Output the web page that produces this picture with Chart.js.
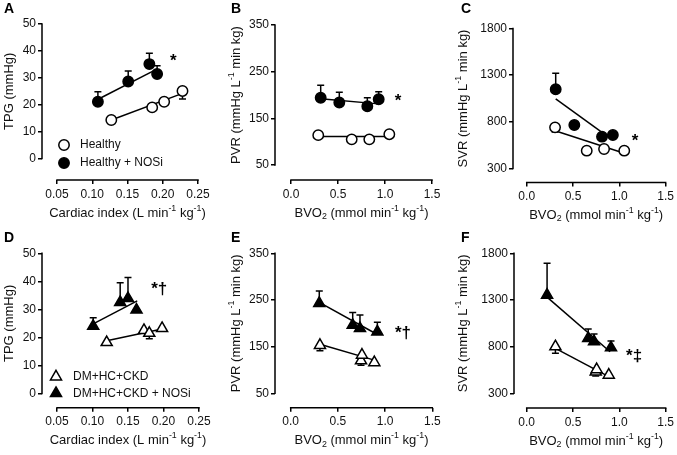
<!DOCTYPE html>
<html>
<head>
<meta charset="utf-8">
<script src="https://cdn.jsdelivr.net/npm/chart.js@4.4.1/dist/chart.umd.min.js"></script>
<style>
  body { margin: 0; background: #fff; }
  #wrap { position: relative; width: 677px; height: 455px; overflow: hidden; }
  canvas { position: absolute; }
</style>
</head>
<body>
<div id="wrap">
  <canvas id="pA" width="225" height="225" style="left:0;top:0"></canvas>
  <canvas id="pB" width="225" height="225" style="left:225px;top:0"></canvas>
  <canvas id="pC" width="227" height="225" style="left:450px;top:0"></canvas>
  <canvas id="pD" width="225" height="230" style="left:0;top:225px"></canvas>
  <canvas id="pE" width="225" height="230" style="left:225px;top:225px"></canvas>
  <canvas id="pF" width="227" height="230" style="left:450px;top:225px"></canvas>
</div>
<script>
// ---- tick labels ----
const ciTicks = [0.05, 0.10, 0.15, 0.20, 0.25];
const bvoTicks = [0.0, 0.5, 1.0, 1.5];
const tpgTicks = [0, 10, 20, 30, 40, 50];
const pvrTicks = [50, 150, 250, 350];
const svrTicks = [300, 800, 1300, 1800];

// ---- A: TPG vs cardiac index, healthy ----
const aHealthyX = [0.127, 0.185, 0.202, 0.228];
const aHealthyY = [14.3, 19.0, 21.1, 25.1];
const aHealthyErr = [0, 0, 0, -3];
const aNosiX = [0.108, 0.151, 0.181, 0.192];
const aNosiY = [21.1, 28.6, 35.1, 31.4];
const aNosiErr = [3.7, 3.9, 4.0, 3.1];
const aHealthyFitX = [0.127, 0.228], aHealthyFitY = [14.3, 24.2];
const aNosiFitX = [0.109, 0.191], aNosiFitY = [22.1, 33.1];

// ---- B: PVR vs BVO2, healthy ----
const bHealthyX = [0.29, 0.646, 0.833, 1.046];
const bHealthyY = [114, 105, 105, 116];
const bHealthyErr = [0, 0, 0, -8];
const bNosiX = [0.316, 0.514, 0.812, 0.933];
const bNosiY = [194, 184, 176, 191];
const bNosiErr = [27, 22, 18, 16];
const bHealthyFitX = [0.29, 1.05], bHealthyFitY = [111, 111];
const bNosiFitX = [0.316, 0.933], bNosiFitY = [192, 181];

// ---- C: SVR vs BVO2, healthy ----
const cHealthyX = [0.306, 0.648, 0.835, 1.053];
const cHealthyY = [741, 491, 509, 491];
const cHealthyErr = [-50, 0, 0, 0];
const cNosiX = [0.313, 0.514, 0.813, 0.93];
const cNosiY = [1149, 766, 641, 659];
const cNosiErr = [171, 0, 0, 0];
const cHealthyFitX = [0.306, 1.053], cHealthyFitY = [705, 463];
const cNosiFitX = [0.313, 0.88], cNosiFitY = [1045, 640];

// ---- D: TPG vs cardiac index, DM+HC+CKD ----
const dSickX = [0.12, 0.1725, 0.18, 0.198];
const dSickY = [18.2, 22.5, 21.5, 23.2];
const dSickErr = [0, 0, -2, 0];
const dNosiX = [0.101, 0.139, 0.15, 0.162];
const dNosiY = [24, 32.5, 33.9, 29.8];
const dNosiErr = [3, 7, 7.5, 0];
const dSickFitX = [0.12, 0.198], dSickFitY = [18.8, 23];
const dNosiFitX = [0.101, 0.163], dNosiFitY = [24.8, 33];

// ---- E: PVR vs BVO2, DM+HC+CKD ----
const eSickX = [0.31, 0.745, 0.755, 0.886];
const eSickY = [153, 120, 132, 116];
const eSickErr = [-12, -10, 0, 0];
const eNosiX = [0.303, 0.657, 0.734, 0.918];
const eNosiY = [243, 196, 189, 182];
const eNosiErr = [26, 27, 29, 20];
const eSickFitX = [0.31, 0.886], eSickFitY = [155, 121];
const eNosiFitX = [0.303, 0.918], eNosiFitY = [245, 176];

// ---- F: SVR vs BVO2, DM+HC+CKD ----
const fSickX = [0.31, 0.745, 0.755, 0.886];
const fSickY = [800, 530, 555, 496];
const fSickErr = [-70, -45, 0, 0];
const fNosiX = [0.22, 0.664, 0.727, 0.91];
const fNosiY = [1354, 889, 854, 789];
const fNosiErr = [340, 100, 82, 72];
const fSickFitX = [0.31, 0.886], fSickFitY = [782, 479];
const fNosiFitX = [0.22, 0.9], fNosiFitY = [1330, 745];

const FONT = '"Liberation Sans", Arial, Helvetica, sans-serif';
Chart.defaults.font.family = FONT;
Chart.defaults.color = '#111';

const ciTitle = [['Cardiac index (L min', ''], ['-1', 'sup'], [' kg', ''], ['-1', 'sup'], [')', '']];
const bvoTitle = [['BVO', ''], ['2', 'sub'], [' (mmol min', ''], ['-1', 'sup'], [' kg', ''], ['-1', 'sup'], [')', '']];
const tpgTitle = [['TPG (mmHg)', '']];
const pvrTitle = [['PVR (mmHg L', ''], ['-1', 'sup'], [' min kg)', '']];
const svrTitle = [['SVR (mmHg L', ''], ['-1', 'sup'], [' min kg)', '']];

const CIRCLE_R = 5.2, TRI_R = 6.4, LW = 1.5;

function markers(xs, ys, errs, style, filled) {
  return {
    data: xs.map((x, i) => ({ x: x, y: ys[i] })),
    errs: errs,
    pointStyle: style,
    pointRadius: style === 'triangle' ? TRI_R : CIRCLE_R,
    pointBackgroundColor: filled ? '#000' : '#fff',
    pointBorderColor: '#000',
    pointBorderWidth: LW,
    order: 0
  };
}

function fitLine(xs, ys) {
  return {
    data: xs.map((x, i) => ({ x: x, y: ys[i] })),
    showLine: true,
    pointRadius: 0,
    borderColor: '#000',
    borderWidth: LW,
    order: 2
  };
}

function drawRich(ctx, parts, cx, cy, size, rotate) {
  ctx.save();
  ctx.translate(cx, cy);
  if (rotate) ctx.rotate(-Math.PI / 2);
  ctx.textBaseline = 'middle';
  ctx.textAlign = 'left';
  ctx.fillStyle = '#111';
  const small = size * 0.68;
  const widths = parts.map(p => {
    ctx.font = (p[1] ? small : size) + 'px ' + FONT;
    return ctx.measureText(p[0]).width;
  });
  let x = -widths.reduce((a, b) => a + b, 0) / 2;
  parts.forEach((p, i) => {
    ctx.font = (p[1] ? small : size) + 'px ' + FONT;
    const dy = p[1] === 'sup' ? -size * 0.36 : p[1] === 'sub' ? size * 0.26 : 0;
    ctx.fillText(p[0], x, dy);
    x += widths[i];
  });
  ctx.restore();
}

const panelCfg = {};

const prism = {
  id: 'prism',
  beforeDatasetsDraw(chart) {
    const ctx = chart.ctx, ys = chart.scales.y;
    ctx.save();
    ctx.strokeStyle = '#000';
    ctx.lineWidth = LW;
    chart.data.datasets.forEach((ds, di) => {
      if (!ds.errs) return;
      const meta = chart.getDatasetMeta(di);
      ds.errs.forEach((e, i) => {
        if (!e) return;
        const pt = meta.data[i];
        const yEnd = ys.getPixelForValue(ds.data[i].y + e);
        ctx.beginPath();
        ctx.moveTo(pt.x, pt.y);
        ctx.lineTo(pt.x, yEnd);
        ctx.moveTo(pt.x - 3.5, yEnd);
        ctx.lineTo(pt.x + 3.5, yEnd);
        ctx.stroke();
      });
    });
    ctx.restore();
  },
  afterDraw(chart) {
    const cfg = panelCfg[chart.canvas.id];
    const ctx = chart.ctx, xs = chart.scales.x, ys = chart.scales.y, area = chart.chartArea;
    ctx.save();
    // offset axis lines
    ctx.strokeStyle = '#000';
    ctx.lineWidth = LW;
    ctx.beginPath();
    ctx.moveTo(area.left, ys.getPixelForValue(cfg.yTicks[0]) + 0.75);
    ctx.lineTo(area.left, ys.getPixelForValue(cfg.yTicks[cfg.yTicks.length - 1]) - 0.75);
    ctx.moveTo(xs.getPixelForValue(cfg.xTicks[0]) - 0.75, area.bottom);
    ctx.lineTo(xs.getPixelForValue(cfg.xTicks[cfg.xTicks.length - 1]) + 0.75, area.bottom);
    ctx.stroke();

    // axis titles
    const midX = (xs.getPixelForValue(cfg.xTicks[0]) + xs.getPixelForValue(cfg.xTicks[cfg.xTicks.length - 1])) / 2;
    drawRich(ctx, cfg.xTitle, midX, area.bottom + 33, 13, false);
    const midY = (ys.getPixelForValue(cfg.yTicks[0]) + ys.getPixelForValue(cfg.yTicks[cfg.yTicks.length - 1])) / 2;
    drawRich(ctx, cfg.yTitle, cfg.yTitleX, midY, 13, true);

    // panel letter
    ctx.fillStyle = '#000';
    ctx.font = 'bold 14px ' + FONT;
    ctx.textAlign = 'left';
    ctx.textBaseline = 'middle';
    ctx.fillText(cfg.letter[0], cfg.letter[1], cfg.letter[2]);

    // significance marks
    ctx.font = 'bold 17px ' + FONT;
    ctx.textAlign = 'center';
    ctx.fillText(cfg.mark[2], xs.getPixelForValue(cfg.mark[0]), ys.getPixelForValue(cfg.mark[1]));

    // legend
    if (cfg.legend) {
      cfg.legend.forEach(item => {
        ctx.fillStyle = item.filled ? '#000' : '#fff';
        ctx.strokeStyle = '#000';
        Chart.helpers.drawPoint(ctx, {
          pointStyle: item.style,
          radius: item.style === 'triangle' ? TRI_R : CIRCLE_R,
          borderWidth: LW,
          rotation: 0
        }, item.mx, item.my);
        ctx.fillStyle = '#111';
        ctx.font = '12px ' + FONT;
        ctx.textAlign = 'left';
        ctx.fillText(item.text, item.tx, item.my);
      });
    }
    ctx.restore();
  }
};
Chart.register(prism);

function makePanel(id, cfg, datasets) {
  panelCfg[id] = cfg;
  const dec = (ticks) => ticks[0] < 1 && ticks[1] - ticks[0] < 0.1 ? 2 : (ticks[1] - ticks[0] < 1 ? 1 : 0);
  const axis = (ticks, min, max, isX) => ({
    type: 'linear',
    min: min,
    max: max,
    afterBuildTicks: s => { s.ticks = ticks.map(v => ({ value: v })); },
    afterFit: s => { if (isX) s.height = cfg.xAxisH; else s.width = cfg.yAxisW; },
    grid: { display: true, drawOnChartArea: false, drawTicks: true, tickLength: 4, color: '#000', lineWidth: LW },
    border: { display: false },
    ticks: {
      color: '#111',
      font: { size: 12 },
      padding: isX ? 3 : 2,
      maxRotation: 0,
      autoSkip: false,
      callback: v => v.toFixed(dec(ticks))
    }
  });
  return new Chart(document.getElementById(id), {
    type: 'scatter',
    data: { datasets: datasets },
    options: {
      responsive: false,
      animation: false,
      events: [],
      layout: { padding: { left: 0, right: cfg.padR, top: cfg.padT, bottom: 0 } },
      plugins: { legend: { display: false }, tooltip: { enabled: false } },
      scales: {
        x: axis(cfg.xTicks, cfg.xMin, cfg.xTicks[cfg.xTicks.length - 1], true),
        y: axis(cfg.yTicks, cfg.yMin, cfg.yTicks[cfg.yTicks.length - 1], false)
      }
    }
  });
}

makePanel('pA', {
  xTicks: ciTicks, yTicks: tpgTicks, xMin: 0.0287, yMin: -8.0,
  yAxisW: 42, padR: 27, padT: 24, xAxisH: 45,
  xTitle: ciTitle, yTitle: tpgTitle, yTitleX: 9,
  letter: ['A', 4, 9], mark: [0.215, 36, '*'],
  legend: [
    { style: 'circle', filled: false, mx: 64, my: 145, tx: 80, text: 'Healthy' },
    { style: 'circle', filled: true, mx: 64, my: 163, tx: 80, text: 'Healthy + NOSi' }
  ]
}, [
  markers(aHealthyX, aHealthyY, aHealthyErr, 'circle', false),
  markers(aNosiX, aNosiY, aNosiErr, 'circle', true),
  fitLine(aHealthyFitX, aHealthyFitY),
  fitLine(aNosiFitX, aNosiFitY)
]);

makePanel('pB', {
  xTicks: bvoTicks, yTicks: pvrTicks, xMin: -0.17, yMin: 17.9,
  yAxisW: 50, padR: 18, padT: 25, xAxisH: 45,
  xTitle: bvoTitle, yTitle: pvrTitle, yTitleX: 11,
  letter: ['B', 6, 9], mark: [1.14, 186, '*']
}, [
  markers(bHealthyX, bHealthyY, bHealthyErr, 'circle', false),
  markers(bNosiX, bNosiY, bNosiErr, 'circle', true),
  fitLine(bHealthyFitX, bHealthyFitY),
  fitLine(bNosiFitX, bNosiFitY)
]);

makePanel('pC', {
  xTicks: bvoTicks, yTicks: svrTicks, xMin: -0.148, yMin: 150,
  yAxisW: 63, padR: 8, padT: 28.5, xAxisH: 42.5,
  xTitle: bvoTitle, yTitle: svrTitle, yTitleX: 13,
  letter: ['C', 11, 9], mark: [1.17, 587, '*']
}, [
  markers(cHealthyX, cHealthyY, cHealthyErr, 'circle', false),
  markers(cNosiX, cNosiY, cNosiErr, 'circle', true),
  fitLine(cHealthyFitX, cHealthyFitY),
  fitLine(cNosiFitX, cNosiFitY)
]);

makePanel('pD', {
  xTicks: ciTicks, yTicks: tpgTicks, xMin: 0.0289, yMin: -5.1,
  yAxisW: 42, padR: 26, padT: 28.3, xAxisH: 47.3,
  xTitle: ciTitle, yTitle: tpgTitle, yTitleX: 9,
  letter: ['D', 4, 13], mark: [0.194, 37, '*\u2020'],
  legend: [
    { style: 'triangle', filled: false, mx: 56, my: 151.7, tx: 73, text: 'DM+HC+CKD' },
    { style: 'triangle', filled: true, mx: 56, my: 168.3, tx: 73, text: 'DM+HC+CKD + NOSi' }
  ]
}, [
  markers(dSickX, dSickY, dSickErr, 'triangle', false),
  markers(dNosiX, dNosiY, dNosiErr, 'triangle', true),
  fitLine(dSickFitX, dSickFitY),
  fitLine(dNosiFitX, dNosiFitY)
]);

makePanel('pE', {
  xTicks: bvoTicks, yTicks: pvrTicks, xMin: -0.166, yMin: 19.1,
  yAxisW: 50, padR: 17.7, padT: 28.3, xAxisH: 47.3,
  xTitle: bvoTitle, yTitle: pvrTitle, yTitleX: 11,
  letter: ['E', 6, 13], mark: [1.19, 178, '*\u2020']
}, [
  markers(eSickX, eSickY, eSickErr, 'triangle', false),
  markers(eNosiX, eNosiY, eNosiErr, 'triangle', true),
  fitLine(eSickFitX, eSickFitY),
  fitLine(eNosiFitX, eNosiFitY)
]);

makePanel('pF', {
  xTicks: bvoTicks, yTicks: svrTicks, xMin: -0.137, yMin: 142.5,
  yAxisW: 64, padR: 8, padT: 28.3, xAxisH: 47,
  xTitle: bvoTitle, yTitle: svrTitle, yTitleX: 13,
  letter: ['F', 11, 13], mark: [1.16, 693, '*\u2021']
}, [
  markers(fSickX, fSickY, fSickErr, 'triangle', false),
  markers(fNosiX, fNosiY, fNosiErr, 'triangle', true),
  fitLine(fSickFitX, fSickFitY),
  fitLine(fNosiFitX, fNosiFitY)
]);
</script>
</body>
</html>
